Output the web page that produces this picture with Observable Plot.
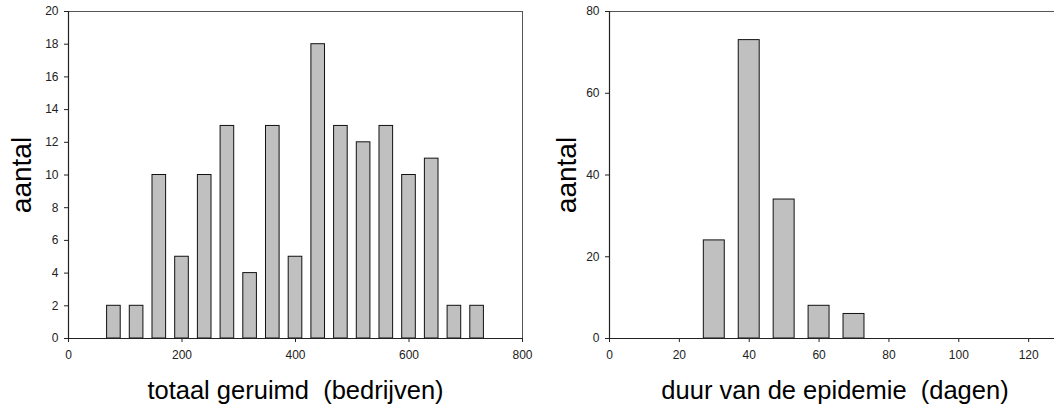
<!DOCTYPE html>
<html>
<head>
<meta charset="utf-8">
<script src="https://cdn.jsdelivr.net/npm/d3@7"></script>
<script src="https://cdn.jsdelivr.net/npm/@observablehq/plot@0.6"></script>
<style>
  html, body { margin: 0; padding: 0; background: #fff; }
  #wrap { display: flex; flex-direction: row; width: 1054px; height: 410px; overflow: hidden; }
  svg { font-family: "Liberation Sans", Arial, sans-serif; flex: none; }
</style>
</head>
<body>
<div id="wrap"></div>
<script>
// Left chart: totaal geruimd (bedrijven)
const leftBins = [80, 120, 160, 200, 240, 280, 320, 360, 400, 440, 480, 520, 560, 600, 640, 680, 720];
const leftCounts = [2, 2, 10, 5, 10, 13, 4, 13, 5, 18, 13, 12, 13, 10, 11, 2, 2];
const leftXTicks = [0, 200, 400, 600, 800];
const leftYTicks = [0, 2, 4, 6, 8, 10, 12, 14, 16, 18, 20];
const leftXLabel = "totaal geruimd  (bedrijven)";

// Right chart: duur van de epidemie (dagen)
const rightBins = [30, 40, 50, 60, 70];
const rightCounts = [24, 73, 34, 8, 6];
const rightXTicks = [0, 20, 40, 60, 80, 100, 120];
const rightYTicks = [0, 20, 40, 60, 80];
const rightXLabel = "duur van de epidemie  (dagen)";

const yLabel = "aantal";

function chart({bins, counts, halfWidth, xDomain, yDomain, xTicks, yTicks, xLabel,
                width, marginLeft, marginRight, yLabelDx, xLabelDx, topRightFrame}) {
  const data = bins.map((b, i) => ({b, c: counts[i]}));
  const marks = [
    Plot.rect(data, {
      x1: d => d.b - halfWidth, x2: d => d.b + halfWidth,
      y1: 0, y2: d => d.c,
      fill: "#c0c0c0", stroke: "#111", strokeWidth: 1
    }),
    Plot.ruleY([yDomain[1]], {stroke: "#555", strokeWidth: 1}),
    Plot.ruleY([0], {stroke: "#222", strokeWidth: 1.2}),
    Plot.ruleX([0], {stroke: "#222", strokeWidth: 1.2}),
    Plot.axisX({ticks: xTicks, tickSize: 4, tickPadding: 8, fontSize: 12, label: null, stroke: "#222", color: "#222"}),
    Plot.axisY({ticks: yTicks, tickSize: 4, tickPadding: 6, fontSize: 12, label: null, stroke: "#222", color: "#222"}),
    Plot.text([xLabel], {frameAnchor: "bottom", dy: 52, dx: xLabelDx, textAnchor: "middle", lineAnchor: "middle", fontSize: 25.5, fill: "#000"}),
    Plot.text([yLabel], {frameAnchor: "left", dx: yLabelDx, rotate: -90, textAnchor: "middle", lineAnchor: "middle", fontSize: 28, fill: "#000"})
  ];
  if (topRightFrame) marks.splice(2, 0, Plot.ruleX([xDomain[1]], {stroke: "#555", strokeWidth: 1}));
  return Plot.plot({
    width, height: 410,
    marginLeft, marginRight, marginTop: 11, marginBottom: 72,
    x: {domain: xDomain},
    y: {domain: yDomain},
    style: {fontFamily: "Liberation Sans, Arial, sans-serif", background: "#fff"},
    marks
  });
}

const wrap = document.getElementById("wrap");
wrap.appendChild(chart({
  bins: leftBins, counts: leftCounts, halfWidth: 12,
  xDomain: [0, 800], yDomain: [0, 20], xTicks: leftXTicks, yTicks: leftYTicks, xLabel: leftXLabel,
  width: 540, marginLeft: 68, marginRight: 18, yLabelDx: -46, xLabelDx: 0, topRightFrame: true
}));
wrap.appendChild(chart({
  bins: rightBins, counts: rightCounts, halfWidth: 3,
  xDomain: [0, 127.4], yDomain: [0, 80], xTicks: rightXTicks, yTicks: rightYTicks, xLabel: rightXLabel,
  width: 514, marginLeft: 69, marginRight: 0, yLabelDx: -42, xLabelDx: 3, topRightFrame: false
}));
</script>
</body>
</html>
